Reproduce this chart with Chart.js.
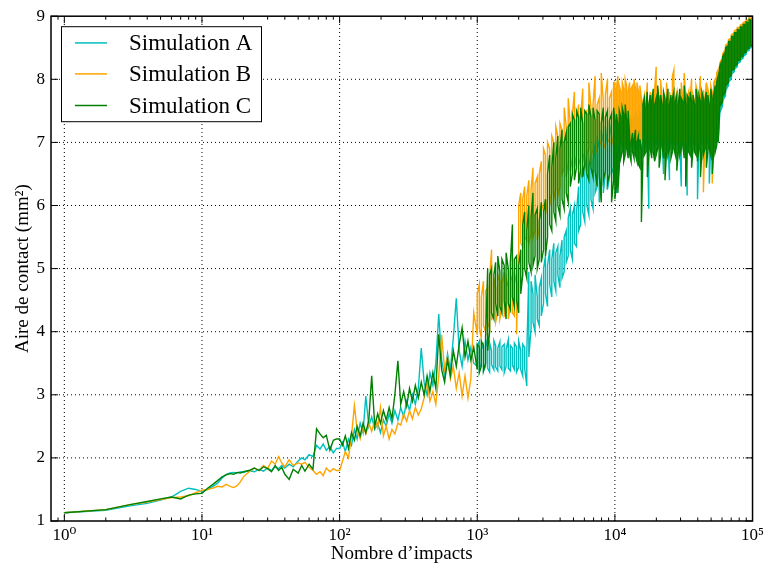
<!DOCTYPE html>
<html><head><meta charset="utf-8">
<script src="https://cdn.jsdelivr.net/npm/chart.js@4.4.1/dist/chart.umd.min.js"></script>
<style>html,body{margin:0;padding:0;background:#fff;}canvas{display:block;}</style>
</head><body>
<canvas id="c" width="768" height="568"></canvas>
<script>
const seriesNames = ['Simulation A', 'Simulation B', 'Simulation C'];
const seriesColors = ['#00bfbf', '#ffa500', '#008000'];
const xTickLabels = ['10⁰', '10¹', '10²', '10³', '10⁴', '10⁵'];
const xTitle = 'Nombre d’impacts';
const yTitle = 'Aire de contact (mm²)';

// sparse part: one value per impact count
const impacts0 = [1,2,3,4,5,6,7,8,9];
const impacts1 = [10,11,12,13,14,15,16,17,18,19,20,22,24,26,28,30,32,34,36,38,40,43,46,50,53,56,60,64,68,72,76,80,85,90,95];
const impacts2 = [100,105,110,116,122,128,134,141,148,155,163,171,180,189,198,208,218,229,240,252,265,278,292,307,322,338,355,373,392,411,432,453,476,500,525,551,579,608,638,670,704,739,776,815,856,898,943];
// dense part: low / high envelope of the fluctuations at each impact count
const impacts3 = [1000,1035,1070,1110,1150,1190,1230,1270,1320,1360,
  1410,1460,1510,1570,1620,1680,1740,1800,1860,1930,
  2000,2070,2140,2210,2290,2370,2460,2540,2630,2730,
  2820,2920,3030,3130,3240,3360,3480,3600,3720,3850,
  3990,4130,4280,4430,4580,4740,4910,5080,5260,5450,
  5640,5840,6040,6250,6470,6700,6940,7180,7430,7690,
  7960,8240,8530,8830,9140,9460,9790];
const impacts4 = [10000,10250,10500,10760,11030,11310,11590,11880,12180,12480,
  12790,13110,13440,13780,14120,14470,14830,15200,15580,15970,
  16370,16780,17200,17630,18070,18520,18990,19460,19950,20450,
  20960,21480,22020,22570,23130,23710,24300,24910,25530,26170,
  26820,27490,28180,28890,29610,30350,31110,31880,32680,33500,
  34330,35190,36070,36970,37900,38850,39820,40810,41830,42880,
  43950,45050,46170,47330,48510,49720,50960,52240,53540,54880,
  56250];
const impacts5 = [57660,59100,60580,62090,63640,65230,66860,68530,70250,72000,
  73800,75650,77540,79480,81460,83500,85590,87730,89920,92170,
  94470,96830,99250,100000];

// ---------- Simulation A ----------
const simA0 = [1.13,1.17,1.24,1.28,1.33,1.38,1.47,1.52,1.50];
const simA1 = [1.47,1.50,1.55,1.60,1.68,1.74,1.76,1.77,1.76,1.78,
  1.77,1.80,1.78,1.82,1.79,1.84,1.80,1.86,1.83,1.88,
  1.84,1.90,1.86,1.95,2.00,1.97,2.05,2.02,2.20,2.14,
  2.22,2.12,2.18,2.08,2.15];
const simA2 = [2.15,2.25,2.10,2.30,2.20,2.45,2.30,2.55,2.40,2.98,
  2.50,2.65,2.45,2.55,2.40,2.60,2.50,2.70,2.55,2.75,
  2.60,2.80,2.65,2.90,2.75,3.00,2.85,3.10,3.74,3.20,
  3.00,3.35,3.15,3.50,4.28,3.55,3.30,3.65,3.40,3.90,
  4.53,3.70,3.45,3.85,3.55,3.75,3.50];
const simA3lo = [3.45,3.40,3.50,3.38,3.45,3.42,3.36,3.48,3.40,3.44,
  3.38,3.46,3.40,3.35,3.45,3.42,3.38,3.47,3.40,3.36,
  3.44,3.40,3.30,3.42,3.14,3.60,4.05,4.15,4.00,4.20,
  4.10,4.25,4.45,4.60,4.40,4.75,4.55,4.80,4.65,4.90,
  4.70,4.85,4.95,5.10,5.20,5.30,5.15,5.40,5.35,5.60,
  5.70,5.90,5.75,6.00,5.85,6.10,5.95,6.20,6.30,6.05,
  6.40,6.20,6.50,6.25,6.45,6.60,6.50];
const simA3hi = [3.78,3.85,3.72,3.80,3.88,3.75,3.82,3.70,3.86,3.78,
  3.74,3.84,3.76,3.80,3.72,3.87,3.78,3.74,3.82,3.76,
  3.85,3.70,3.80,3.75,3.66,4.95,4.80,4.60,4.90,4.55,
  4.70,4.85,5.00,5.20,5.05,5.30,5.15,5.40,5.25,5.35,
  5.20,5.45,5.50,5.60,5.80,5.95,5.85,6.00,5.90,6.30,
  6.40,6.60,6.50,6.90,6.60,6.80,6.70,7.00,7.10,6.90,
  7.20,7.00,7.25,6.95,7.30,7.10,7.20];
const simA4lo = [6.40,6.20,6.58,6.90,7.00,6.95,7.05,6.95,7.00,6.90,
  7.00,6.95,7.05,6.95,7.00,6.90,7.00,6.95,6.80,7.00,
  7.00,6.95,7.05,5.95,7.00,6.95,7.05,6.90,7.00,6.95,
  7.00,6.95,7.05,6.50,7.00,6.95,7.05,6.40,7.00,6.95,
  7.00,6.95,7.05,6.95,7.00,6.30,7.00,6.95,7.05,6.16,
  7.00,6.95,7.05,7.00,6.95,7.05,6.10,7.00,6.95,7.05,
  7.00,6.95,7.05,7.00,6.35,6.95,7.05,7.00,7.05,7.00,
  7.00];
const simA4hi = [7.30,7.40,7.25,7.45,7.35,7.50,7.40,7.30,7.45,7.35,
  7.40,7.30,7.45,7.35,7.50,7.40,7.30,7.45,7.35,7.50,
  7.40,7.45,7.35,7.50,7.40,7.30,7.45,7.55,7.40,7.50,
  7.45,7.35,7.50,7.40,7.45,7.35,7.50,7.40,7.55,7.45,
  7.40,7.50,7.35,7.45,7.40,7.50,7.35,7.45,7.50,7.40,
  7.45,7.35,7.50,7.40,7.45,7.55,7.40,7.50,7.35,7.45,
  7.50,7.40,7.45,7.55,7.40,7.50,7.45,7.60,7.75,7.85,
  7.95];
const simA5lo = [7.42,7.52,7.58,7.70,7.74,7.86,7.90,7.98,8.01,8.10,
  8.12,8.18,8.20,8.26,8.28,8.32,8.34,8.38,8.40,8.45,
  8.46,8.50,8.52,8.54];
const simA5hi = [8.12,8.20,8.30,8.35,8.45,8.48,8.55,8.56,8.64,8.65,
  8.70,8.71,8.76,8.76,8.80,8.81,8.85,8.85,8.89,8.88,
  8.93,8.92,8.96,8.96];

// ---------- Simulation B ----------
const simB0 = [1.13,1.18,1.26,1.30,1.34,1.37,1.38,1.40,1.45];
const simB1 = [1.49,1.50,1.52,1.55,1.54,1.58,1.55,1.53,1.56,1.62,
  1.70,1.78,1.84,1.80,1.88,1.83,1.95,1.90,2.02,1.92,
  1.86,1.97,1.88,1.92,1.90,1.93,1.85,1.80,1.74,1.78,
  1.72,1.84,1.78,1.83,1.80];
const simB2 = [1.80,1.95,2.10,2.00,2.35,2.83,2.45,2.30,2.50,2.38,
  2.55,2.42,2.60,2.48,2.80,2.35,2.50,2.30,2.45,2.38,
  2.55,2.52,2.70,2.58,2.75,2.62,2.80,2.68,2.78,2.95,
  3.20,2.90,3.05,2.85,3.30,3.95,3.40,3.60,3.25,3.45,
  3.10,3.35,2.98,3.30,2.95,3.25,4.30];
const simB3lo = [3.95,4.05,3.90,4.10,4.00,4.15,4.05,4.20,4.25,4.15,
  4.30,4.20,4.35,4.25,4.30,4.20,4.40,4.30,4.25,3.96,
  5.30,5.40,5.35,5.50,5.45,5.40,5.55,5.50,5.60,5.45,
  5.65,5.90,6.05,5.85,6.10,6.00,6.20,6.10,6.25,6.15,
  6.30,6.50,6.60,6.45,6.70,6.55,6.75,6.60,6.80,6.65,
  6.75,6.70,6.85,6.80,6.90,6.75,6.90,7.00,6.85,7.05,
  6.95,7.00,6.90,7.05,7.00,6.95,7.10];
const simB3hi = [4.60,4.75,4.55,4.80,4.65,4.70,4.85,5.30,4.85,4.70,
  4.90,4.80,4.75,4.95,4.85,4.70,4.90,4.80,4.95,4.75,
  6.00,6.20,6.10,6.30,6.15,6.40,6.25,6.60,6.35,6.45,
  6.50,6.70,6.90,6.80,7.00,6.90,7.10,7.00,7.25,7.10,
  7.30,7.20,7.55,7.25,7.70,7.30,7.45,7.80,7.35,7.60,
  7.40,7.85,7.45,7.50,7.95,7.55,7.60,8.05,7.60,7.70,
  8.10,7.65,7.75,8.00,7.70,7.80,7.95];
const simB4lo = [7.00,7.10,6.95,7.15,7.05,7.00,7.10,6.90,7.05,7.15,
  7.00,6.95,7.10,7.05,7.00,7.15,6.90,7.05,7.00,7.10,
  7.05,7.15,7.00,7.10,6.95,7.05,7.15,7.00,7.10,7.05,
  7.00,7.10,7.05,7.15,6.95,7.05,7.10,7.00,7.15,7.05,
  7.10,7.00,7.05,7.15,7.00,7.10,7.05,6.95,7.10,7.00,
  7.05,7.15,7.00,7.10,7.05,6.95,7.10,7.00,7.05,7.10,
  6.21,7.05,7.00,7.10,6.95,7.05,6.35,7.00,7.10,7.20,
  7.30];
const simB4hi = [7.95,7.85,8.05,7.90,7.80,7.95,7.85,8.00,7.90,7.80,
  7.95,7.85,7.90,8.00,7.85,7.95,7.80,7.90,7.70,7.65,
  7.75,7.60,7.95,7.55,7.80,7.70,7.60,7.85,8.20,7.65,
  7.70,8.00,7.65,7.75,7.60,7.95,7.70,7.80,7.65,8.05,
  8.15,7.70,7.80,7.65,7.75,7.95,7.70,8.10,7.75,7.70,
  7.80,7.70,8.00,7.75,7.65,7.90,7.80,7.70,8.05,7.75,
  7.80,7.70,7.95,7.85,7.75,7.90,7.80,7.95,8.00,8.10,
  8.15];
const simB5lo = [7.60,7.68,7.72,7.82,7.86,7.96,8.00,8.08,8.10,8.18,
  8.20,8.26,8.28,8.33,8.35,8.40,8.41,8.45,8.47,8.51,
  8.53,8.56,8.58,8.60];
const simB5hi = [8.25,8.30,8.40,8.44,8.54,8.56,8.63,8.64,8.71,8.72,
  8.77,8.78,8.82,8.82,8.86,8.87,8.90,8.91,8.94,8.94,
  8.98,8.97,9.00,9.00];

// ---------- Simulation C ----------
const simC0 = [1.13,1.18,1.26,1.31,1.35,1.38,1.35,1.41,1.43];
const simC1 = [1.44,1.52,1.58,1.64,1.70,1.73,1.75,1.74,1.77,1.76,
  1.78,1.80,1.84,1.80,1.86,1.83,1.78,1.88,1.80,1.85,
  1.74,1.66,1.82,1.76,1.88,1.79,1.90,1.82,2.46,2.38,
  2.32,2.36,2.12,2.28,2.30];
const simC2 = [2.30,2.20,2.35,2.15,2.40,2.28,2.50,2.35,2.55,2.40,
  2.60,3.30,2.50,2.70,2.55,2.75,2.60,2.80,2.62,3.00,
  3.54,2.85,3.05,2.82,3.10,2.90,3.15,2.95,3.20,3.00,
  3.30,3.05,3.35,3.10,3.96,3.40,3.20,3.55,3.30,3.70,
  3.45,3.80,4.06,3.60,3.85,3.55,3.75];
const simC3lo = [3.40,3.35,3.45,3.38,3.50,3.70,4.00,4.30,4.20,4.45,
  4.25,4.40,4.30,4.50,4.20,4.45,4.35,4.55,4.40,4.50,
  4.30,4.60,4.90,5.00,4.85,5.10,4.95,5.05,5.20,5.00,
  5.15,5.10,5.30,5.20,5.50,5.70,5.60,5.90,5.75,6.00,
  5.85,6.10,5.95,6.20,6.05,6.30,6.50,6.40,6.60,6.35,
  6.55,6.45,6.65,6.50,6.40,6.60,6.45,6.55,6.30,6.50,
  6.05,6.40,6.55,6.35,6.50,6.05,6.40];
const simC3hi = [3.80,3.75,3.85,3.78,3.90,5.00,4.90,5.00,4.90,5.10,
  5.20,4.95,5.15,5.05,5.25,5.00,5.10,5.70,5.15,5.20,
  5.05,5.30,5.70,5.90,5.60,6.00,5.80,6.20,5.85,5.95,
  5.75,6.05,5.90,6.10,6.50,6.80,6.60,7.00,6.75,7.10,
  6.90,7.20,7.00,7.15,7.25,7.30,7.45,7.35,7.50,7.40,
  7.55,7.30,7.50,7.45,7.60,7.40,7.55,7.35,7.50,7.45,
  7.30,7.55,7.40,7.50,7.35,7.45,7.55];
const simC4lo = [6.10,6.30,6.20,6.60,6.75,6.85,6.70,6.80,6.90,6.75,
  6.80,6.70,6.85,6.75,6.80,6.70,6.65,6.60,5.74,6.70,
  6.80,6.85,6.45,6.80,6.90,6.75,6.85,6.70,6.80,6.90,
  6.60,6.80,6.95,6.75,6.40,6.85,6.80,6.90,6.75,6.85,
  6.90,6.80,6.55,6.85,6.80,6.90,6.95,6.75,6.30,6.85,
  6.85,6.80,6.60,6.90,6.85,6.80,6.70,6.90,6.45,6.85,
  6.80,6.90,6.60,6.85,6.90,6.80,6.50,6.85,6.85,6.95,
  7.00];
const simC4hi = [7.35,7.45,7.30,7.50,7.40,7.55,7.45,7.60,7.35,7.50,
  7.10,7.00,7.15,7.05,7.20,7.00,7.10,7.05,6.90,7.60,
  7.70,7.55,7.80,7.60,7.75,7.65,7.85,7.60,7.70,7.90,
  7.65,7.75,7.60,7.80,7.70,7.65,7.85,7.60,7.75,7.70,
  7.80,7.65,7.75,7.60,7.85,7.70,7.65,7.90,7.60,7.75,
  7.70,7.80,7.65,7.75,7.60,7.85,7.70,7.75,7.65,7.80,
  7.70,7.65,7.80,7.75,7.60,7.85,7.70,7.75,7.90,7.95,
  8.05];
const simC5lo = [7.50,7.60,7.64,7.76,7.80,7.92,7.95,8.04,8.06,8.15,
  8.16,8.22,8.24,8.30,8.31,8.36,8.37,8.42,8.43,8.48,
  8.49,8.53,8.54,8.56];
const simC5hi = [8.20,8.26,8.36,8.40,8.50,8.52,8.60,8.60,8.68,8.68,
  8.74,8.74,8.79,8.78,8.83,8.83,8.87,8.87,8.91,8.90,
  8.95,8.94,8.98,8.98];

const sparseX = [].concat(impacts0, impacts1, impacts2);
const denseX = [].concat(impacts3, impacts4, impacts5);
const seriesSparse = [
  [].concat(simA0, simA1, simA2),
  [].concat(simB0, simB1, simB2),
  [].concat(simC0, simC1, simC2)
];
const seriesLow = [
  [].concat(simA3lo, simA4lo, simA5lo),
  [].concat(simB3lo, simB4lo, simB5lo),
  [].concat(simC3lo, simC4lo, simC5lo)
];
const seriesHigh = [
  [].concat(simA3hi, simA4hi, simA5hi),
  [].concat(simB3hi, simB4hi, simB5hi),
  [].concat(simC3hi, simC4hi, simC5hi)
];

function buildPoints(k) {
  const pts = sparseX.map((x, i) => ({ x: x, y: seriesSparse[k][i] }));
  denseX.forEach((x, i) => {
    const lo = seriesLow[k][i], hi = seriesHigh[k][i];
    if (i % 2 === 0) { pts.push({ x: x, y: lo }, { x: x, y: hi }); }
    else { pts.push({ x: x, y: hi }, { x: x, y: lo }); }
  });
  return pts;
}

const FONT = "'Liberation Serif', 'DejaVu Serif', serif";

const decor = {
  id: 'decor',
  beforeDraw(chart) {
    const ctx = chart.ctx;
    ctx.save(); ctx.fillStyle = '#fff'; ctx.fillRect(0, 0, chart.width, chart.height); ctx.restore();
  },
  beforeDatasetsDraw(chart) {
    const { ctx, chartArea: a, scales: { x, y } } = chart;
    ctx.save();
    ctx.strokeStyle = '#000'; ctx.lineWidth = 1; ctx.setLineDash([1, 3]);
    x.ticks.forEach(t => {
      const px = x.getPixelForValue(t.value);
      if (px <= a.left + 1 || px >= a.right - 1) return;
      ctx.beginPath(); ctx.moveTo(px, a.bottom); ctx.lineTo(px, a.top); ctx.stroke();
    });
    y.ticks.forEach(t => {
      const py = y.getPixelForValue(t.value);
      if (py <= a.top + 1 || py >= a.bottom - 1) return;
      ctx.beginPath(); ctx.moveTo(a.left, py); ctx.lineTo(a.right, py); ctx.stroke();
    });
    ctx.restore();
  },
  afterDatasetsDraw(chart) {
    const { ctx, chartArea: a, scales: { x, y } } = chart;
    ctx.save();
    ctx.setLineDash([]);
    ctx.strokeStyle = '#000';
    ctx.lineWidth = 1;
    for (let d = -1; d <= 4; d++) {
      for (let k = 1; k <= 9; k++) {
        const v = k * Math.pow(10, d);
        if (v < x.min || v > x.max) continue;
        const px = x.getPixelForValue(v);
        if (px <= a.left + 1 || px >= a.right - 1) continue;
        const len = (k === 1) ? 7 : 3.5;
        ctx.beginPath();
        ctx.moveTo(px, a.bottom); ctx.lineTo(px, a.bottom - len);
        ctx.moveTo(px, a.top); ctx.lineTo(px, a.top + len);
        ctx.stroke();
      }
    }
    y.ticks.forEach(t => {
      const py = y.getPixelForValue(t.value);
      ctx.beginPath();
      ctx.moveTo(a.left, py); ctx.lineTo(a.left + 7, py);
      ctx.moveTo(a.right, py); ctx.lineTo(a.right - 7, py);
      ctx.stroke();
    });
    ctx.lineWidth = 1.5;
    ctx.strokeRect(a.left, a.top, a.right - a.left, a.bottom - a.top);
    // legend
    const lx = a.left + 10, ly = a.top + 10, lw = 200, lh = 95;
    ctx.fillStyle = '#fff';
    ctx.fillRect(lx, ly, lw, lh);
    ctx.lineWidth = 1;
    ctx.strokeRect(lx + 0.5, ly + 0.5, lw, lh);
    ctx.font = '23px ' + FONT;
    ctx.textBaseline = 'middle';
    ctx.textAlign = 'left';
    const rows = [ly + 16.7, ly + 47.7, ly + 79.3];
    seriesNames.forEach((name, i) => {
      ctx.strokeStyle = seriesColors[i];
      ctx.lineWidth = 1.5;
      ctx.beginPath(); ctx.moveTo(lx + 14, rows[i]); ctx.lineTo(lx + 46, rows[i]); ctx.stroke();
      ctx.fillStyle = '#000';
      ctx.fillText(name, lx + 68, rows[i] + 1);
    });
    ctx.restore();
  }
};

new Chart(document.getElementById('c'), {
  type: 'line',
  data: {
    datasets: seriesNames.map((name, i) => ({
      label: name,
      data: buildPoints(i),
      borderColor: seriesColors[i],
      backgroundColor: seriesColors[i],
      borderWidth: 1.4,
      pointRadius: 0,
      tension: 0,
      fill: false,
      order: 3 - i
    }))
  },
  options: {
    responsive: false,
    devicePixelRatio: 1,
    animation: false,
    layout: { padding: { top: 14, right: 14, left: 0, bottom: 0 } },
    plugins: { legend: { display: false }, tooltip: { enabled: false } },
    scales: {
      x: {
        type: 'logarithmic',
        min: 0.8,
        max: 100000,
        grid: { display: false, drawTicks: false },
        border: { display: false },
        afterBuildTicks: (s) => { s.ticks = [1, 10, 100, 1000, 10000, 100000].map(v => ({ value: v })); },
        afterFit: (s) => { s.height = 47; },
        ticks: {
          autoSkip: false, maxRotation: 0, padding: 4, color: '#000',
          font: { family: FONT, size: 17 },
          callback: (v) => xTickLabels[Math.round(Math.log10(v))]
        },
        title: {
          display: true, text: xTitle, color: '#000',
          font: { family: FONT, size: 19 },
          padding: { top: 0, bottom: 3 }
        }
      },
      y: {
        type: 'linear',
        min: 1,
        max: 9,
        grid: { display: false, drawTicks: false },
        border: { display: false },
        afterFit: (s) => { s.width = 51; },
        ticks: {
          stepSize: 1, padding: 6, color: '#000',
          font: { family: FONT, size: 17 }
        },
        title: {
          display: true, text: yTitle, color: '#000',
          font: { family: FONT, size: 19 },
          padding: { top: 12, bottom: 0 }
        }
      }
    }
  },
  plugins: [decor]
});
</script>
</body></html>
